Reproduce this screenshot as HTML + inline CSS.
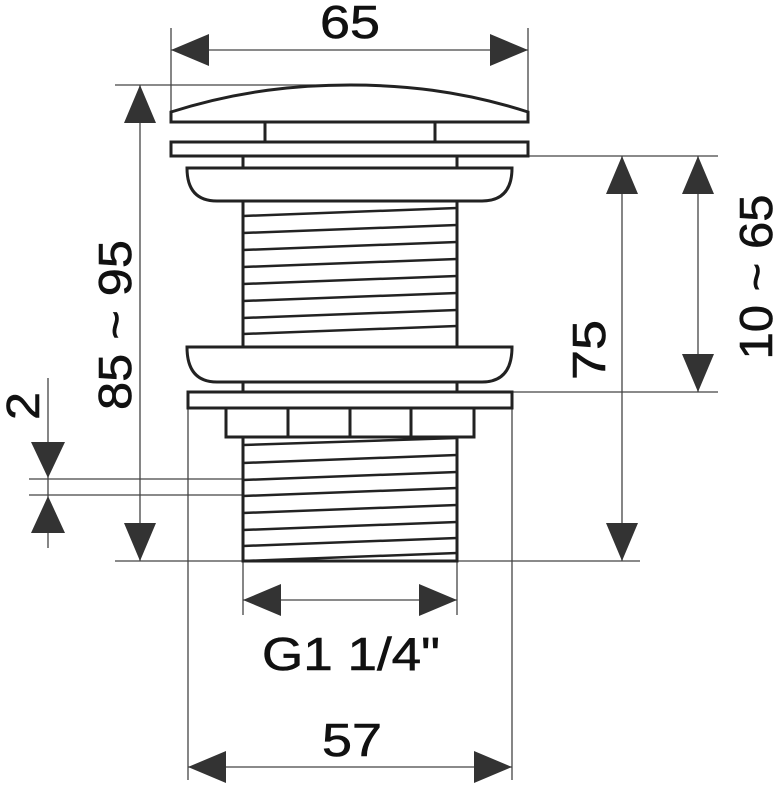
<!DOCTYPE html>
<html><head><style>body{margin:0;background:#fff}svg{display:block}</style></head><body>
<svg width="775" height="787" viewBox="0 0 775 787" xmlns="http://www.w3.org/2000/svg">
<g stroke="#444" stroke-width="1.3" fill="none">
<line x1="171" y1="28" x2="171" y2="112"/><line x1="528" y1="28" x2="528" y2="112"/>
<line x1="171" y1="50" x2="528" y2="50"/>
<line x1="115" y1="85" x2="350" y2="85"/><line x1="115" y1="561" x2="640" y2="561"/>
<line x1="140" y1="85" x2="140" y2="561"/>
<line x1="457" y1="156" x2="718" y2="156"/><line x1="512" y1="392" x2="718" y2="392"/>
<line x1="622" y1="156" x2="622" y2="561"/><line x1="698" y1="156" x2="698" y2="392"/>
<line x1="29" y1="479" x2="243" y2="479"/><line x1="29" y1="495" x2="243" y2="495"/>
<line x1="48" y1="378" x2="48" y2="548"/>
<line x1="243" y1="561" x2="243" y2="615"/><line x1="457" y1="561" x2="457" y2="615"/>
<line x1="243" y1="600" x2="457" y2="600"/>
<line x1="188" y1="408" x2="188" y2="780"/><line x1="512" y1="408" x2="512" y2="780"/>
<line x1="188" y1="767" x2="512" y2="767"/>
</g>
<g fill="#333">
<polygon points="171,50 209,34 209,66"/><polygon points="528,50 490,34 490,66"/>
<polygon points="140,85 124,123 156,123"/><polygon points="140,561 124,523 156,523"/>
<polygon points="622,156 606,194 638,194"/><polygon points="622,561 606,523 638,523"/>
<polygon points="698,156 682,194 714,194"/><polygon points="698,392 682,354 714,354"/>
<polygon points="48,478 31,442 65,442"/><polygon points="48,496 31,533 65,533"/>
<polygon points="243,600 281,584 281,616"/><polygon points="457,600 419,584 419,616"/>
<polygon points="188,767 226,751 226,783"/><polygon points="512,767 474,751 474,783"/>
</g>
<g stroke="#222" stroke-width="3" fill="#fff">
<path d="M171,112 C240,90 300,85 350,85 C400,85 460,90 528,112 L528,122 L171,122 Z"/>
<rect x="265" y="122" width="170" height="20"/>
<rect x="171" y="142" width="357" height="14"/>
<rect x="243" y="156" width="214" height="12"/>
<rect x="243" y="201" width="214" height="146"/>
<path d="M187,168 L512,168 Q512,201 482,201 L217,201 Q187,201 187,168 Z"/>
<rect x="243" y="382" width="214" height="10"/>
<path d="M187,347 L512,347 Q512,382 482,382 L217,382 Q187,382 187,347 Z"/>
<rect x="188" y="392" width="324" height="16"/>
<rect x="243" y="437" width="214" height="124"/>
<rect x="226" y="408" width="248" height="29"/>
<line x1="288" y1="408" x2="288" y2="437"/><line x1="350" y1="408" x2="350" y2="437"/><line x1="411" y1="408" x2="411" y2="437"/>
</g>
<g stroke="#222" stroke-width="2.5">
<line x1="243" y1="216" x2="457" y2="208"/><line x1="243" y1="233" x2="457" y2="225"/>
<line x1="243" y1="250" x2="457" y2="242"/><line x1="243" y1="267" x2="457" y2="259"/>
<line x1="243" y1="284" x2="457" y2="276"/><line x1="243" y1="301" x2="457" y2="293"/>
<line x1="243" y1="318" x2="457" y2="310"/><line x1="243" y1="334" x2="457" y2="326"/>
<line x1="243" y1="445" x2="457" y2="438"/><line x1="243" y1="463" x2="457" y2="455"/>
<line x1="243" y1="480" x2="457" y2="472"/><line x1="243" y1="496" x2="457" y2="488"/>
<line x1="243" y1="513" x2="457" y2="505"/><line x1="243" y1="530" x2="457" y2="522"/>
<line x1="243" y1="546" x2="457" y2="538"/><line x1="243" y1="561" x2="457" y2="553"/>
</g>
<g font-family="Liberation Sans, sans-serif" font-size="46" fill="#111" stroke="#111" stroke-width="0.6" text-anchor="middle" lengthAdjust="spacingAndGlyphs">
<text x="350" y="38" textLength="60" lengthAdjust="spacingAndGlyphs">65</text>
<text x="352" y="756" textLength="60" lengthAdjust="spacingAndGlyphs">57</text>
<text x="351" y="670" textLength="178" lengthAdjust="spacingAndGlyphs">G1 1/4"</text>
<text transform="translate(131,325) rotate(-90)" textLength="170" lengthAdjust="spacingAndGlyphs">85 ~ 95</text>
<text transform="translate(605,350) rotate(-90)" textLength="60" lengthAdjust="spacingAndGlyphs">75</text>
<text transform="translate(772,277) rotate(-90)" textLength="165" lengthAdjust="spacingAndGlyphs">10 ~ 65</text>
<text transform="translate(39,406) rotate(-90)" textLength="28" lengthAdjust="spacingAndGlyphs">2</text>
</g>
</svg>
</body></html>
